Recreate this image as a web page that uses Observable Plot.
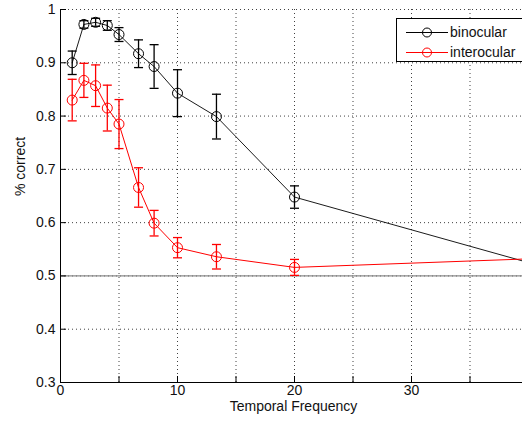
<!DOCTYPE html>
<html>
<head>
<meta charset="utf-8">
<script src="https://cdn.jsdelivr.net/npm/d3@7"></script>
<script src="https://cdn.jsdelivr.net/npm/@observablehq/plot@0.6"></script>
<style>
  html, body { margin: 0; padding: 0; background: white; overflow: hidden; }
  #wrap { position: relative; width: 522px; height: 423px; }
  #legend { position: absolute; left: 396px; top: 18px; width: 126px; height: 44px;
    border: 1px solid #000; border-right: none; background: #fff; box-sizing: border-box; font: 14px "Liberation Sans", Arial, sans-serif; color: #111; overflow: hidden; }
  #legend .row { position: absolute; left: 0; height: 20px; width: 125px; }
  #legend svg { position: absolute; left: 7px; top: 0; }
  #legend span { position: absolute; left: 53px; top: 1px; }
</style>
</head>
<body>
<div id="wrap">
  <div id="chart"></div>
  <div id="legend"></div>
</div>
<script>
const freq = [1, 2, 3, 4, 5, 6.67, 8, 10, 13.33, 20, 40];
const binocular = [0.900, 0.972, 0.976, 0.970, 0.953, 0.917, 0.893, 0.843, 0.799, 0.648, 0.525];
const binocularErr = [0.022, 0.007, 0.0075, 0.009, 0.013, 0.026, 0.041, 0.044, 0.042, 0.021, 0];
const interocular = [0.830, 0.867, 0.857, 0.815, 0.785, 0.666, 0.599, 0.553, 0.536, 0.516, 0.532];
const interocularErr = [0.039, 0.032, 0.039, 0.043, 0.046, 0.037, 0.024, 0.019, 0.023, 0.015, 0];
const seriesNames = ["binocular", "interocular"];
const seriesColors = ["#000000", "#ff0000"];
const xTickLabels = [0, 10, 20, 30];
const xTicks = [0, 5, 10, 15, 20, 25, 30, 35];
const yTicks = [0.3, 0.4, 0.5, 0.6, 0.7, 0.8, 0.9, 1];
const chanceLevel = 0.5;

const rows = [];
[[binocular, binocularErr], [interocular, interocularErr]].forEach(([vals, errs], s) => {
  freq.forEach((f, i) => rows.push({series: seriesNames[s], x: f, y: vals[i], e: errs[i]}));
});
const errRows = rows.filter(d => d.e > 0);

const capSymbol = {
  draw(context, size) {
    const w = 4.5;
    context.moveTo(-w, 0);
    context.lineTo(w, 0);
  }
};

const font = '"Liberation Sans", Arial, sans-serif';

const marks = [
  Plot.gridX({ticks: xTicks.filter(t => t > 0), stroke: "#000", strokeOpacity: 0.75, strokeDasharray: "1,3"}),
  Plot.gridY({ticks: yTicks.filter(t => t > 0.3), stroke: "#000", strokeOpacity: 0.75, strokeDasharray: "1,3"}),
  Plot.ruleY([chanceLevel], {stroke: "#8a8a8a", strokeWidth: 1.2}),
  Plot.axisX({anchor: "bottom", ticks: xTicks, tickSize: -6, tickFormat: () => "", label: null, stroke: "#000"}),
  Plot.axisY({anchor: "left", ticks: yTicks, tickSize: -6, tickFormat: () => "", label: null, stroke: "#000"}),
  Plot.axisX({anchor: "bottom", ticks: xTickLabels, tickSize: 0, tickPadding: 3, label: null, fill: "#111"}),
  Plot.axisY({anchor: "left", ticks: yTicks, tickSize: 0, tickPadding: 5, tickFormat: d => String(d), label: null, fill: "#111"}),
  Plot.ruleY([0.3], {stroke: "#000", strokeWidth: 1}),
  Plot.ruleX([0], {stroke: "#000", strokeWidth: 1}),
];

seriesNames.forEach((name, s) => {
  const c = seriesColors[s];
  const d = rows.filter(r => r.series === name);
  const e = errRows.filter(r => r.series === name);
  marks.push(
    Plot.line(d, {x: "x", y: "y", stroke: c, strokeWidth: s === 0 ? 0.9 : 1, clip: true}),
    Plot.ruleX(e, {x: "x", y1: r => r.y - r.e, y2: r => r.y + r.e, stroke: c, strokeWidth: 1.3, clip: true}),
    Plot.dot(e, {x: "x", y: r => r.y - r.e, symbol: capSymbol, stroke: c, strokeWidth: 1.3, r: 4, clip: true}),
    Plot.dot(e, {x: "x", y: r => r.y + r.e, symbol: capSymbol, stroke: c, strokeWidth: 1.3, r: 4, clip: true}),
    Plot.dot(d, {x: "x", y: "y", r: 5, stroke: c, fill: "none", strokeWidth: 1, clip: true})
  );
});

marks.push(
  Plot.text(["Temporal Frequency"], {frameAnchor: "bottom", text: d => d, dy: 28, dx: 2, fill: "#111", fontSize: 14}),
  Plot.text(["% correct"], {frameAnchor: "left", text: d => d, dx: -40, rotate: -90, fill: "#111", fontSize: 14})
);

const plot = Plot.plot({
  width: 522,
  height: 423,
  marginLeft: 60,
  marginRight: 0,
  marginTop: 9,
  marginBottom: 41,
  style: {fontSize: "14px", fontFamily: font, background: "white"},
  x: {domain: [0, 40], range: [60, 528]},
  y: {domain: [0.3, 1]},
  marks
});
document.getElementById("chart").appendChild(plot);

// legend
const legend = document.getElementById("legend");
seriesNames.forEach((name, s) => {
  const row = document.createElement("div");
  row.className = "row";
  row.style.top = (4 + s * 20) + "px";
  row.innerHTML = `<svg width="44" height="20"><line x1="2" x2="44" y1="9.5" y2="9.5" stroke="${seriesColors[s]}" stroke-width="1"/><circle cx="23" cy="9.5" r="4.5" fill="none" stroke="${seriesColors[s]}"/></svg><span>${name}</span>`;
  legend.appendChild(row);
});
</script>
</body>
</html>
